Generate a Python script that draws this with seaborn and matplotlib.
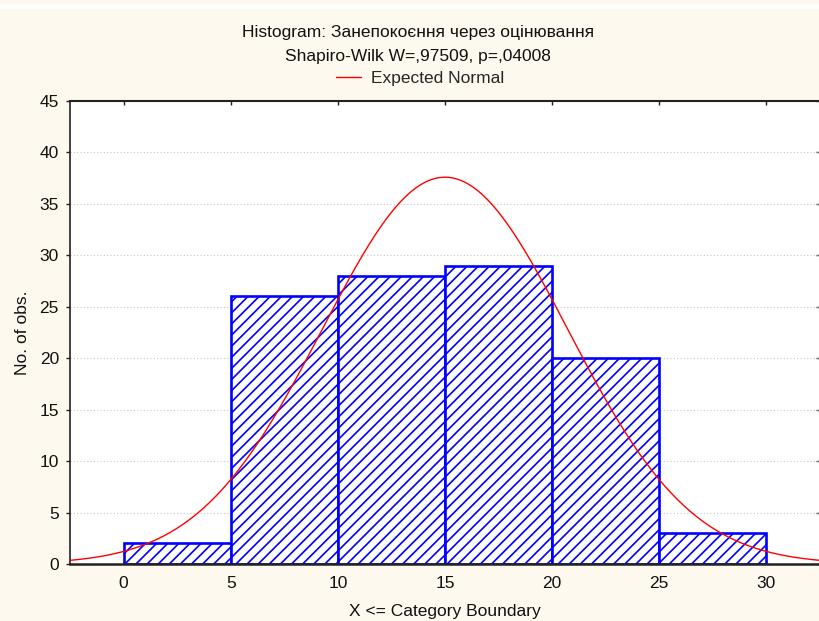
import numpy as np
import pandas as pd
import matplotlib
matplotlib.use("Agg")
import matplotlib.pyplot as plt
import seaborn as sns
from matplotlib.patches import Rectangle

# ---- data ----
bin_edges = [0, 5, 10, 15, 20, 25, 30]
bin_counts = [2, 26, 28, 29, 20, 3]
fit_mean = 15.0
fit_sd = 5.73
x_ticks = [0, 5, 10, 15, 20, 25, 30]
y_ticks = [0, 5, 10, 15, 20, 25, 30, 35, 40, 45]
title_line1 = "Histogram: Занепокоєння через оцінювання"
title_line2 = "Shapiro-Wilk W=,97509, p=,04008"
legend_label = "Expected Normal"
x_label = "X <= Category Boundary"
y_label = "No. of obs."

sns.set_theme(style="white")
plt.rcParams['font.family'] = ['Liberation Sans', 'DejaVu Sans']
plt.rcParams['hatch.linewidth'] = 1.2
plt.rcParams['hatch.color'] = '#0000FF'

FS = 12.5
TXT = '#111111'
bg = '#FEF9EE'
fig = plt.figure(figsize=(8.2, 6.21), dpi=100, facecolor=bg)
fig.patches.append(Rectangle((0, 1 - 9/621), 1, 5/621, transform=fig.transFigure,
                             facecolor='white', edgecolor='none', zorder=0))
ax = fig.add_axes([70/820, 57/621, 750/820, 463/621])
ax.set_facecolor('white')

centers = [(a + b) / 2 for a, b in zip(bin_edges[:-1], bin_edges[1:])]
df = pd.DataFrame({"x": centers, "w": bin_counts})
sns.histplot(data=df, x="x", weights="w", bins=bin_edges, ax=ax,
             color='white', edgecolor='#0000FF', linewidth=1.9, alpha=1.0,
             hatch='///', zorder=2)
for p in ax.patches:
    p.set_facecolor('white')
    p.set_edgecolor('#0000FF')
    p.set_hatch('///')

total = sum(bin_counts)
width = bin_edges[1] - bin_edges[0]
xs = np.linspace(-2.5, 32.5, 400)
ys = total * width / (fit_sd * np.sqrt(2 * np.pi)) * np.exp(-(xs - fit_mean) ** 2 / (2 * fit_sd ** 2))
sns.lineplot(x=xs, y=ys, ax=ax, color='#FF0000', linewidth=1.0, label=legend_label, zorder=3)

ax.set_xlim(-2.5, 32.5)
ax.set_ylim(0, 45)
ax.set_xticks(x_ticks)
ax.set_yticks(y_ticks)
ax.set_xticklabels([str(t) for t in x_ticks], fontsize=FS, color=TXT)
ax.set_yticklabels([str(t) for t in y_ticks], fontsize=FS, color=TXT)
ax.set_xlabel(x_label, fontsize=FS, color=TXT, labelpad=9)
ax.set_ylabel(y_label, fontsize=FS, color=TXT, labelpad=7)

for yv in y_ticks[1:-1]:
    ax.axhline(yv, color='#C8C8C8', linestyle=(0, (1, 2)), linewidth=0.8, zorder=1)

for s in ['left', 'bottom', 'top']:
    ax.spines[s].set_visible(True)
    ax.spines[s].set_color('#222222')
ax.spines['left'].set_linewidth(1.2)
ax.spines['bottom'].set_linewidth(1.8)
ax.spines['top'].set_linewidth(1.5)
ax.spines['right'].set_visible(False)

# left ticks point outward, right ticks inward
ax.tick_params(axis='y', which='both', left=True, right=False, direction='out',
               length=3, width=1, color='#222222', pad=5)
ax2 = ax.secondary_yaxis('right')
ax2.set_yticks(y_ticks)
ax2.set_yticklabels([])
ax2.tick_params(axis='y', direction='in', length=3, width=1, color='#222222')
ax2.spines['right'].set_visible(False)
ax.tick_params(axis='x', which='both', top=True, bottom=True, direction='in',
               length=3, width=1, color='#222222', pad=9)

leg = ax.get_legend()
if leg is not None:
    leg.remove()
handles, labels = ax.get_legend_handles_labels()

fig.text(418/820, 1 - 32/621, title_line1, ha='center', va='center', fontsize=FS, color=TXT)
fig.text(418/820, 1 - 56/621, title_line2, ha='center', va='center', fontsize=FS, color=TXT)
fig.legend(handles, labels, loc='center', bbox_to_anchor=(420/820, 1 - 78/621),
           frameon=False, fontsize=FS, handlelength=1.45, handletextpad=0.6,
           borderaxespad=0, borderpad=0)

fig.savefig("out.png", dpi=100, facecolor=bg)
